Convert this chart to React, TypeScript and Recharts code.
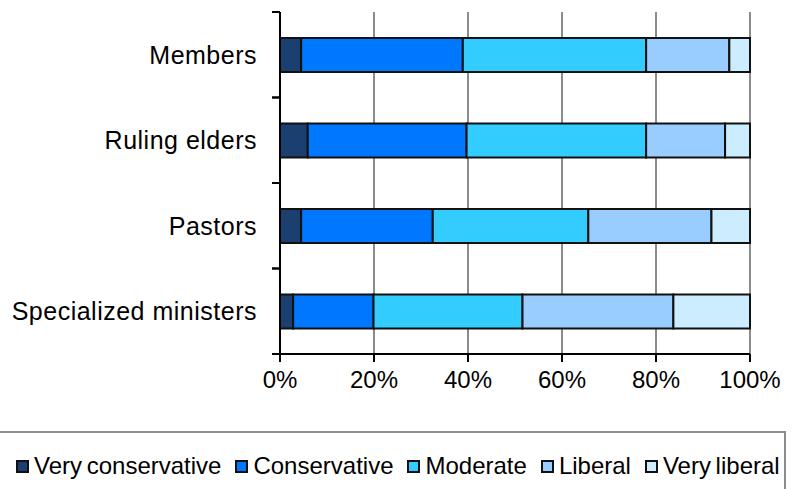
import { BarChart, Bar, XAxis, YAxis, CartesianGrid, Legend } from "recharts";

const categories = ["Members", "Ruling elders", "Pastors", "Specialized ministers"];
const veryConservative = [4.5, 5.9, 4.5, 2.8];
const conservative = [34.4, 33.8, 28.0, 17.1];
const moderate = [39.0, 38.2, 33.1, 31.7];
const liberal = [17.7, 16.8, 26.2, 32.1];
const veryLiberal = [4.4, 5.3, 8.2, 16.3];
const xTicks = [0, 20, 40, 60, 80, 100];

const seriesList = [
    { key: "vc", name: "Very conservative", color: "#1B3F6E", values: veryConservative },
    { key: "c", name: "Conservative", color: "#0077FF", values: conservative },
    { key: "m", name: "Moderate", color: "#33CCFF", values: moderate },
    { key: "l", name: "Liberal", color: "#99CCFF", values: liberal },
    { key: "vl", name: "Very liberal", color: "#CCECFF", values: veryLiberal },
];

const data = categories.map((cat, i) => {
    const row: any = { cat };
    seriesList.forEach(s => { row[s.key] = s.values[i]; });
    return row;
});

const FONT = "'Liberation Sans', Arial, sans-serif";
const W = 796;
const H = 489;
const TOP = 12;
const PLOT_BOTTOM = 354;
const HALF_BAND = (PLOT_BOTTOM - TOP) / categories.length / 2;

function CategoryTick({ x, y, payload }: any) {
    return (
        <g>
            <line x1={x} x2={x - 8} y1={y - HALF_BAND} y2={y - HALF_BAND} stroke="#000" strokeWidth={2} />
            <line x1={x} x2={x - 8} y1={y + HALF_BAND} y2={y + HALF_BAND} stroke="#000" strokeWidth={2} />
            <text x={x - 23} y={y} dy="0.36em" textAnchor="end" fontSize={25} letterSpacing={0.5} fontFamily={FONT} fill="#000">
                {payload.value}
            </text>
        </g>
    );
}

function LegendBox() {
    return (
        <div style={{ display: "flex", alignItems: "center", paddingLeft: 16, paddingTop: 19, fontFamily: FONT, fontSize: 24, wordSpacing: -2, color: "#000", whiteSpace: "nowrap" }}>
            {seriesList.map(s => (
                <div key={s.key} style={{ display: "flex", alignItems: "center", marginRight: 14 }}>
                    <span style={{ display: "inline-block", width: 9, height: 9, background: s.color, border: "2px solid #111", marginRight: 5 }} />
                    <span>{s.name}</span>
                </div>
            ))}
        </div>
    );
}

export default function App() {
    return (
        <div style={{ position: "absolute", left: 0, top: 0, width: W, height: H, background: "#fff", overflow: "hidden" }}>
            <BarChart
                width={W}
                height={H}
                data={data}
                layout="vertical"
                margin={{ top: TOP, right: 46, left: 0, bottom: 0 }}
                barSize={34}
            >
                <CartesianGrid horizontal={false} stroke="#8c8c8c" strokeWidth={2} />
                <XAxis
                    type="number"
                    domain={[0, 100]}
                    ticks={xTicks}
                    tickFormatter={(v: number) => `${v}%`}
                    axisLine={{ stroke: "#000", strokeWidth: 2 }}
                    tickLine={{ stroke: "#000", strokeWidth: 2 }}
                    tickSize={8}
                    tickMargin={9}
                    height={65}
                    tick={{ fontSize: 24, fontFamily: FONT, fill: "#000" }}
                    interval={0}
                />
                <XAxis
                    xAxisId="top"
                    orientation="top"
                    type="number"
                    domain={[0, 100]}
                    axisLine={{ stroke: "#8c8c8c", strokeWidth: 2 }}
                    tick={false}
                    tickLine={false}
                    height={0}
                />
                <YAxis
                    type="category"
                    dataKey="cat"
                    width={280}
                    axisLine={{ stroke: "#000", strokeWidth: 2 }}
                    tickLine={false}
                    tickSize={0}
                    tickMargin={0}
                    tick={<CategoryTick />}
                    interval={0}
                />
                <Legend
                    verticalAlign="bottom"
                    height={58}
                    content={() => <LegendBox />}
                    wrapperStyle={{ left: -2, width: 788, height: 70, bottom: -12, border: "2px solid #8c8c8c", boxSizing: "border-box" }}
                />
                {seriesList.map(s => (
                    <Bar
                        key={s.key}
                        dataKey={s.key}
                        name={s.name}
                        stackId="a"
                        fill={s.color}
                        stroke="#111"
                        strokeWidth={2}
                        isAnimationActive={false}
                    />
                ))}
            </BarChart>
        </div>
    );
}
